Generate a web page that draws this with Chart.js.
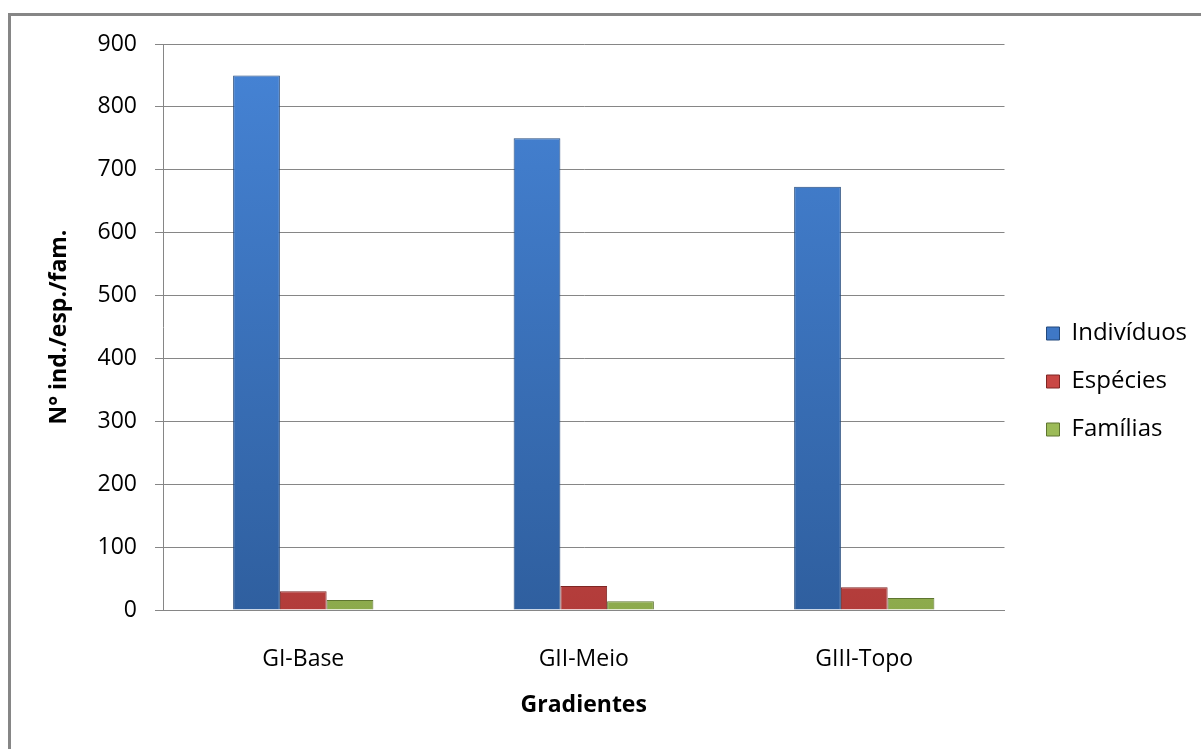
<!DOCTYPE html>
<html>
<head>
<meta charset="utf-8">
<script src="https://cdn.jsdelivr.net/npm/chart.js"></script>
<style>
  html, body { margin: 0; padding: 0; background: #fff; overflow: hidden; }
  #frame { position: absolute; left: 8px; top: 13px; width: 1300px; height: 900px; border: 3px solid #868686; }
  #wrap { position: absolute; left: 0; top: 0; width: 1201px; height: 749px; }
</style>
</head>
<body>
<div id="frame"></div>
<div id="wrap"><canvas id="barChart" width="1201" height="749"></canvas></div>
<script>
const categories = ['GI-Base', 'GII-Meio', 'GIII-Topo'];
const individuos = [850, 750, 673];
const especies = [30, 38, 36];
const familias = [16, 14, 19];
const yTicks = [0, 100, 200, 300, 400, 500, 600, 700, 800, 900];

const FONT = '"Open Sans", "Liberation Sans", sans-serif';

function shade(top, bottom){
    return function(context){
        const area = context.chart.chartArea;
        if(!area) return top;
        const g = context.chart.ctx.createLinearGradient(0, area.top, 0, area.bottom);
        g.addColorStop(0, top);
        g.addColorStop(1, bottom);
        return g;
    };
}

const ctx = document.getElementById('barChart').getContext('2d');
new Chart(ctx, {
    type: 'bar',
    data: {
        labels: categories,
        datasets: [
            {
                label: 'Indivíduos',
                data: individuos,
                backgroundColor: shade('#4684d6', '#2f5f9f'),
                borderColor: '#23497c',
                borderWidth: 1
            },
            {
                label: 'Espécies',
                data: especies,
                backgroundColor: shade('#e25a57', '#b23c3a'),
                borderColor: '#7e2624',
                borderWidth: 1
            },
            {
                label: 'Famílias',
                data: familias,
                backgroundColor: shade('#b8d86e', '#8caa4c'),
                borderColor: '#5e7530',
                borderWidth: 1
            }
        ]
    },
    options: {
        responsive: false,
        animation: false,
        layout: { padding: { left: 46, top: 44, right: 4, bottom: 30 } },
        datasets: { bar: { categoryPercentage: 0.5, barPercentage: 1 } },
        plugins: {
            tooltip: { enabled: false },
            legend: {
                position: 'right',
                labels: {
                    color: '#000',
                    font: { family: FONT, size: 24 },
                    boxWidth: 13,
                    boxHeight: 13,
                    padding: 24,
                    generateLabels: function(chart){
                        const fills = ['#3f78c6', '#c94744', '#9cbb58'];
                        return chart.data.datasets.map(function(ds, i){
                            return {
                                text: ds.label,
                                fillStyle: fills[i],
                                strokeStyle: ds.borderColor,
                                lineWidth: 1,
                                datasetIndex: i,
                                fontColor: '#000'
                            };
                        });
                    }
                }
            }
        },
        scales: {
            x: {
                grid: { display: false, drawTicks: false },
                border: { color: '#868686', width: 1 },
                ticks: { color: '#000', font: { family: FONT, size: 23 }, padding: 36 },
                title: {
                    display: true,
                    text: 'Gradientes',
                    color: '#000',
                    font: { family: FONT, size: 23, weight: 'bold' },
                    padding: { top: 0, bottom: 0 }
                },
                afterFit: function(axis){ axis.height = 109; }
            },
            y: {
                min: 0,
                max: 900,
                afterBuildTicks: function(axis){
                    axis.ticks = yTicks.map(function(v){ return { value: v }; });
                },
                grid: { color: '#868686', tickLength: 8, lineWidth: 1 },
                border: { color: '#868686', width: 1 },
                ticks: { color: '#000', font: { family: FONT, size: 23 }, padding: 18 },
                title: {
                    display: true,
                    text: 'N° ind./esp./fam.',
                    color: '#000',
                    font: { family: FONT, size: 23, weight: 'bold' },
                    padding: { top: 0, bottom: 0 }
                },
                afterFit: function(axis){ axis.width = 117; }
            },
            gap: {
                position: 'right',
                display: true,
                grid: { display: false },
                border: { display: false },
                ticks: { display: false },
                afterFit: function(axis){ axis.width = 18; }
            }
        }
    }
});
</script>
</body>
</html>
